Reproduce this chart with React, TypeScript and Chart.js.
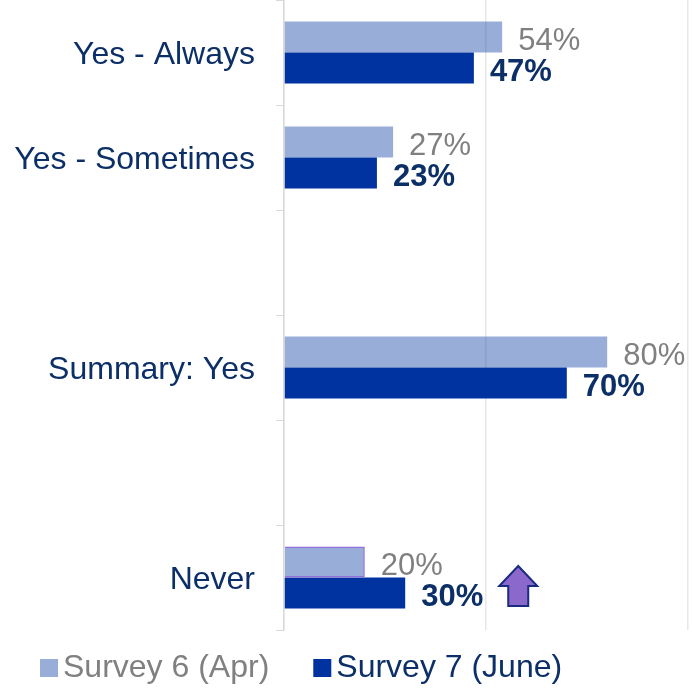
import React, { useEffect, useRef } from "react";
import { Chart, registerables } from "chart.js";
Chart.register(...registerables);

const categories = ["Yes - Always", "Yes - Sometimes", "", "Summary: Yes", "", "Never"];
const survey6 = [54, 27, null, 80, null, 20];
const survey7 = [47, 23, null, 70, null, 30];
const seriesNames = ["Survey 6 (Apr)", "Survey 7 (June)"];
const xTickValues = [0, 50, 100];
const highlightCategory = "Never";

const FONT = "'Liberation Sans', Arial, sans-serif";
const NAVY = "#0b2f66";
const GRAY = "#808080";
const C6 = "rgba(0,51,160,0.4)";
const C7 = "#0033a0";
const PURPLE = "#8a68cc";

const labelPlugin = {
  id: "valueLabels",
  afterDatasetsDraw(chart: any) {
    const ctx = chart.ctx;
    ctx.save();
    ctx.textAlign = "left";
    ctx.textBaseline = "middle";
    chart.data.datasets.forEach((ds: any, i: number) => {
      const meta = chart.getDatasetMeta(i);
      meta.data.forEach((el: any, j: number) => {
        const v = ds.data[j];
        if (v === null || v === undefined) return;
        ctx.font = i === 0 ? `31px ${FONT}` : `bold 31px ${FONT}`;
        ctx.fillStyle = i === 0 ? GRAY : NAVY;
        const text = v + "%";
        const tx = el.x + 16;
        const ty = el.y + 4;
        ctx.fillText(text, tx, ty);
        if (i === 1 && chart.data.labels[j] === highlightCategory) {
          const w = ctx.measureText(text).width;
          const left = tx + w + 16;
          const cx = left + 19;
          const top = el.y - 27;
          const headBase = top + 20;
          const bottom = top + 40;
          ctx.beginPath();
          ctx.moveTo(cx, top);
          ctx.lineTo(cx + 19, headBase);
          ctx.lineTo(cx + 10, headBase);
          ctx.lineTo(cx + 10, bottom);
          ctx.lineTo(cx - 10, bottom);
          ctx.lineTo(cx - 10, headBase);
          ctx.lineTo(cx - 19, headBase);
          ctx.closePath();
          ctx.fillStyle = PURPLE;
          ctx.fill();
          ctx.lineWidth = 2;
          ctx.strokeStyle = "#1b2b80";
          ctx.stroke();
        }
      });
    });
    ctx.restore();
  },
};

const legendPlugin = {
  id: "customLegend",
  afterDraw(chart: any) {
    const ctx = chart.ctx;
    ctx.save();
    ctx.font = `32px ${FONT}`;
    ctx.textBaseline = "middle";
    ctx.textAlign = "left";
    const y = chart.chartArea.bottom + 38;
    let x = 40;
    const colors = [C6, C7];
    const textColors = [GRAY, NAVY];
    seriesNames.forEach((name, i) => {
      ctx.fillStyle = colors[i];
      ctx.fillRect(x, y - 9, 18, 18);
      ctx.fillStyle = textColors[i];
      ctx.fillText(name, x + 23, y);
      x += 23 + ctx.measureText(name).width + 44;
    });
    ctx.restore();
  },
};

export default function App() {
  const ref = useRef<HTMLCanvasElement>(null);
  useEffect(() => {
    document.body.style.margin = "0";
    const chart = new Chart(ref.current as HTMLCanvasElement, {
      type: "bar",
      data: {
        labels: categories,
        datasets: [
          {
            label: seriesNames[0],
            data: survey6 as any,
            backgroundColor: C6,
            borderColor: categories.map((c) => (c === highlightCategory ? "#9370db" : "rgba(0,0,0,0)")),
            borderWidth: categories.map((c) => (c === highlightCategory ? 1.5 : 0)),
            barPercentage: 1,
            categoryPercentage: 0.59,
          },
          {
            label: seriesNames[1],
            data: survey7 as any,
            backgroundColor: C7,
            barPercentage: 1,
            categoryPercentage: 0.59,
          },
        ],
      },
      options: {
        indexAxis: "y",
        animation: false,
        responsive: false,
        layout: { padding: { top: 0, right: 4, bottom: 62, left: 0 } },
        plugins: { legend: { display: false }, tooltip: { enabled: false } },
        scales: {
          x: {
            min: 0,
            max: 100,
            afterBuildTicks: (scale: any) => {
              scale.ticks = xTickValues.map((v) => ({ value: v }));
            },
            ticks: { display: false },
            grid: { color: "#e8e8e8", lineWidth: 1.5, drawTicks: false },
            border: { display: false },
            afterFit: (scale: any) => {
              scale.height = 0;
              scale.paddingLeft = 0;
              scale.paddingRight = 0;
            },
          },
          y: {
            grid: { drawOnChartArea: false, drawTicks: true, tickLength: 8, color: "#d9d9d9", offset: true },
            border: { display: true, color: "#d9d9d9", width: 1.5 },
            ticks: { color: NAVY, padding: 21, labelOffset: 3, font: { family: FONT, size: 32 } },
            afterFit: (scale: any) => {
              scale.width = 284;
              scale.paddingTop = 0;
              scale.paddingBottom = 0;
            },
          },
        },
      } as any,
      plugins: [labelPlugin, legendPlugin],
    });
    return () => chart.destroy();
  }, []);
  return <canvas ref={ref} width={692} height={692} />;
}
